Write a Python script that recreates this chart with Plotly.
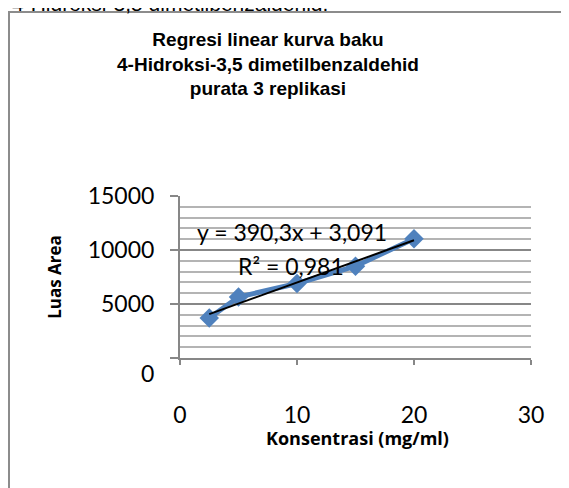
import plotly.graph_objects as go

# ---- data ----
konsentrasi = [2.5, 5, 10, 15, 20]
luas_area = [3700, 5650, 6900, 8500, 11050]
trend_slope = 390.3
trend_intercept = 3091
equation_text = "y = 390,3x + 3,091"
r2_text = "R² = 0,981"
x_ticks = [0, 10, 20, 30]
y_ticks = [0, 5000, 10000, 15000]
title_lines = ["Regresi linear kurva baku", "4-Hidroksi-3,5 dimetilbenzaldehid", "purata 3 replikasi"]
x_title = "Konsentrasi (mg/ml)"
y_title = "Luas Area"
page_text = "4-Hidroksi-3,5 dimetilbenzaldehid."

# page body has an 8px margin, so the figure is drawn 8px smaller
OFF = 8
W, H = 569 - OFF, 488 - OFF
L, R, T, B = 180 - OFF, 38, 196 - OFF, 130
PW, PH = W - L - R, H - T - B


def sx(xs):  # screenshot x -> paper fraction
    return (xs - OFF - L) / PW


def sy(ys):  # screenshot y -> paper fraction
    return (H - B - (ys - OFF)) / PH


GRID_MAJOR = "#878787"
GRID_MINOR = "#b4b4b4"
BLUE = "#4F81BD"
TICKFONT = dict(family="Lato", size=23, color="black")
TITLEFONT = dict(family="Open Sans", size=17, color="black", weight="bold")
XTITLEFONT = dict(family="Open Sans", size=18, color="black", weight="bold")

trend_x = [min(konsentrasi), max(konsentrasi)]
trend_y = [trend_slope * v + trend_intercept for v in trend_x]

fig = go.Figure()
fig.add_trace(go.Scatter(
    x=konsentrasi, y=luas_area, mode="lines+markers",
    line=dict(color=BLUE, width=5),
    marker=dict(symbol="diamond", size=15, color=BLUE),
    hoverinfo="skip",
))
fig.add_trace(go.Scatter(
    x=trend_x, y=trend_y, mode="lines",
    line=dict(color="black", width=2),
    hoverinfo="skip",
))

fig.update_layout(
    width=W, height=H,
    margin=dict(l=L, r=R, t=T, b=B, autoexpand=False),
    paper_bgcolor="white", plot_bgcolor="white",
    showlegend=False,
    title=dict(
        text="<br>".join(title_lines),
        font=dict(family="Liberation Sans", size=19, color="black", weight="bold"),
        xref="container", x=(268 - OFF) / W, xanchor="center",
        yref="container", y=1 - 38 / H, yanchor="top",
    ),
    xaxis=dict(
        range=[0, 30], tickvals=x_ticks, ticktext=[str(v) for v in x_ticks],
        ticks="outside", ticklen=5, tickwidth=2, tickcolor=GRID_MAJOR,
        showline=True, linecolor=GRID_MAJOR, linewidth=2,
        showgrid=False, zeroline=False, tickfont=TICKFONT,
        ticklabelstandoff=30,
    ),
    yaxis=dict(
        range=[0, 15000], tickvals=y_ticks,
        ticktext=["" if v == 0 else str(v) for v in y_ticks],
        ticks="outside", ticklen=8, tickwidth=2, tickcolor=GRID_MAJOR,
        showline=True, linecolor=GRID_MAJOR, linewidth=2,
        showgrid=True, gridcolor=GRID_MAJOR, gridwidth=1.5,
        minor=dict(dtick=1000, showgrid=True, gridcolor=GRID_MINOR, gridwidth=1.5, ticks=""),
        zeroline=False, tickfont=TICKFONT,
        ticklabelstandoff=11,
        title=dict(text=y_title, font=TITLEFONT, standoff=22),
    ),
    shapes=[dict(
        type="rect", xref="paper", yref="paper",
        x0=sx(9), x1=sx(600), y0=sy(520), y1=sy(12),
        line=dict(color="#8c8c8c", width=2), fillcolor="rgba(0,0,0,0)", layer="below",
    )],
    annotations=[
        dict(text=str(y_ticks[0]), x=0, y=y_ticks[0], xref="x", yref="y",
             xanchor="right", yanchor="middle", xshift=-24, yshift=-15,
             showarrow=False, font=TICKFONT),
        dict(text=x_title, xref="paper", yref="paper", x=sx(357), y=sy(438),
             xanchor="center", yanchor="middle", showarrow=False, font=XTITLEFONT),
        dict(text=equation_text, xref="paper", yref="paper", x=sx(291.5), y=sy(232),
             xanchor="center", yanchor="middle", showarrow=False, font=TICKFONT),
        dict(text=r2_text, xref="paper", yref="paper", x=sx(290.5), y=sy(266),
             xanchor="center", yanchor="middle", showarrow=False, font=TICKFONT),
        dict(text=page_text, xref="paper", yref="paper", x=sx(10), y=sy(17),
             xanchor="left", yanchor="bottom", showarrow=False,
             font=dict(family="Liberation Sans", size=21, color="black")),
    ],
)

fig.write_html("out.html")
